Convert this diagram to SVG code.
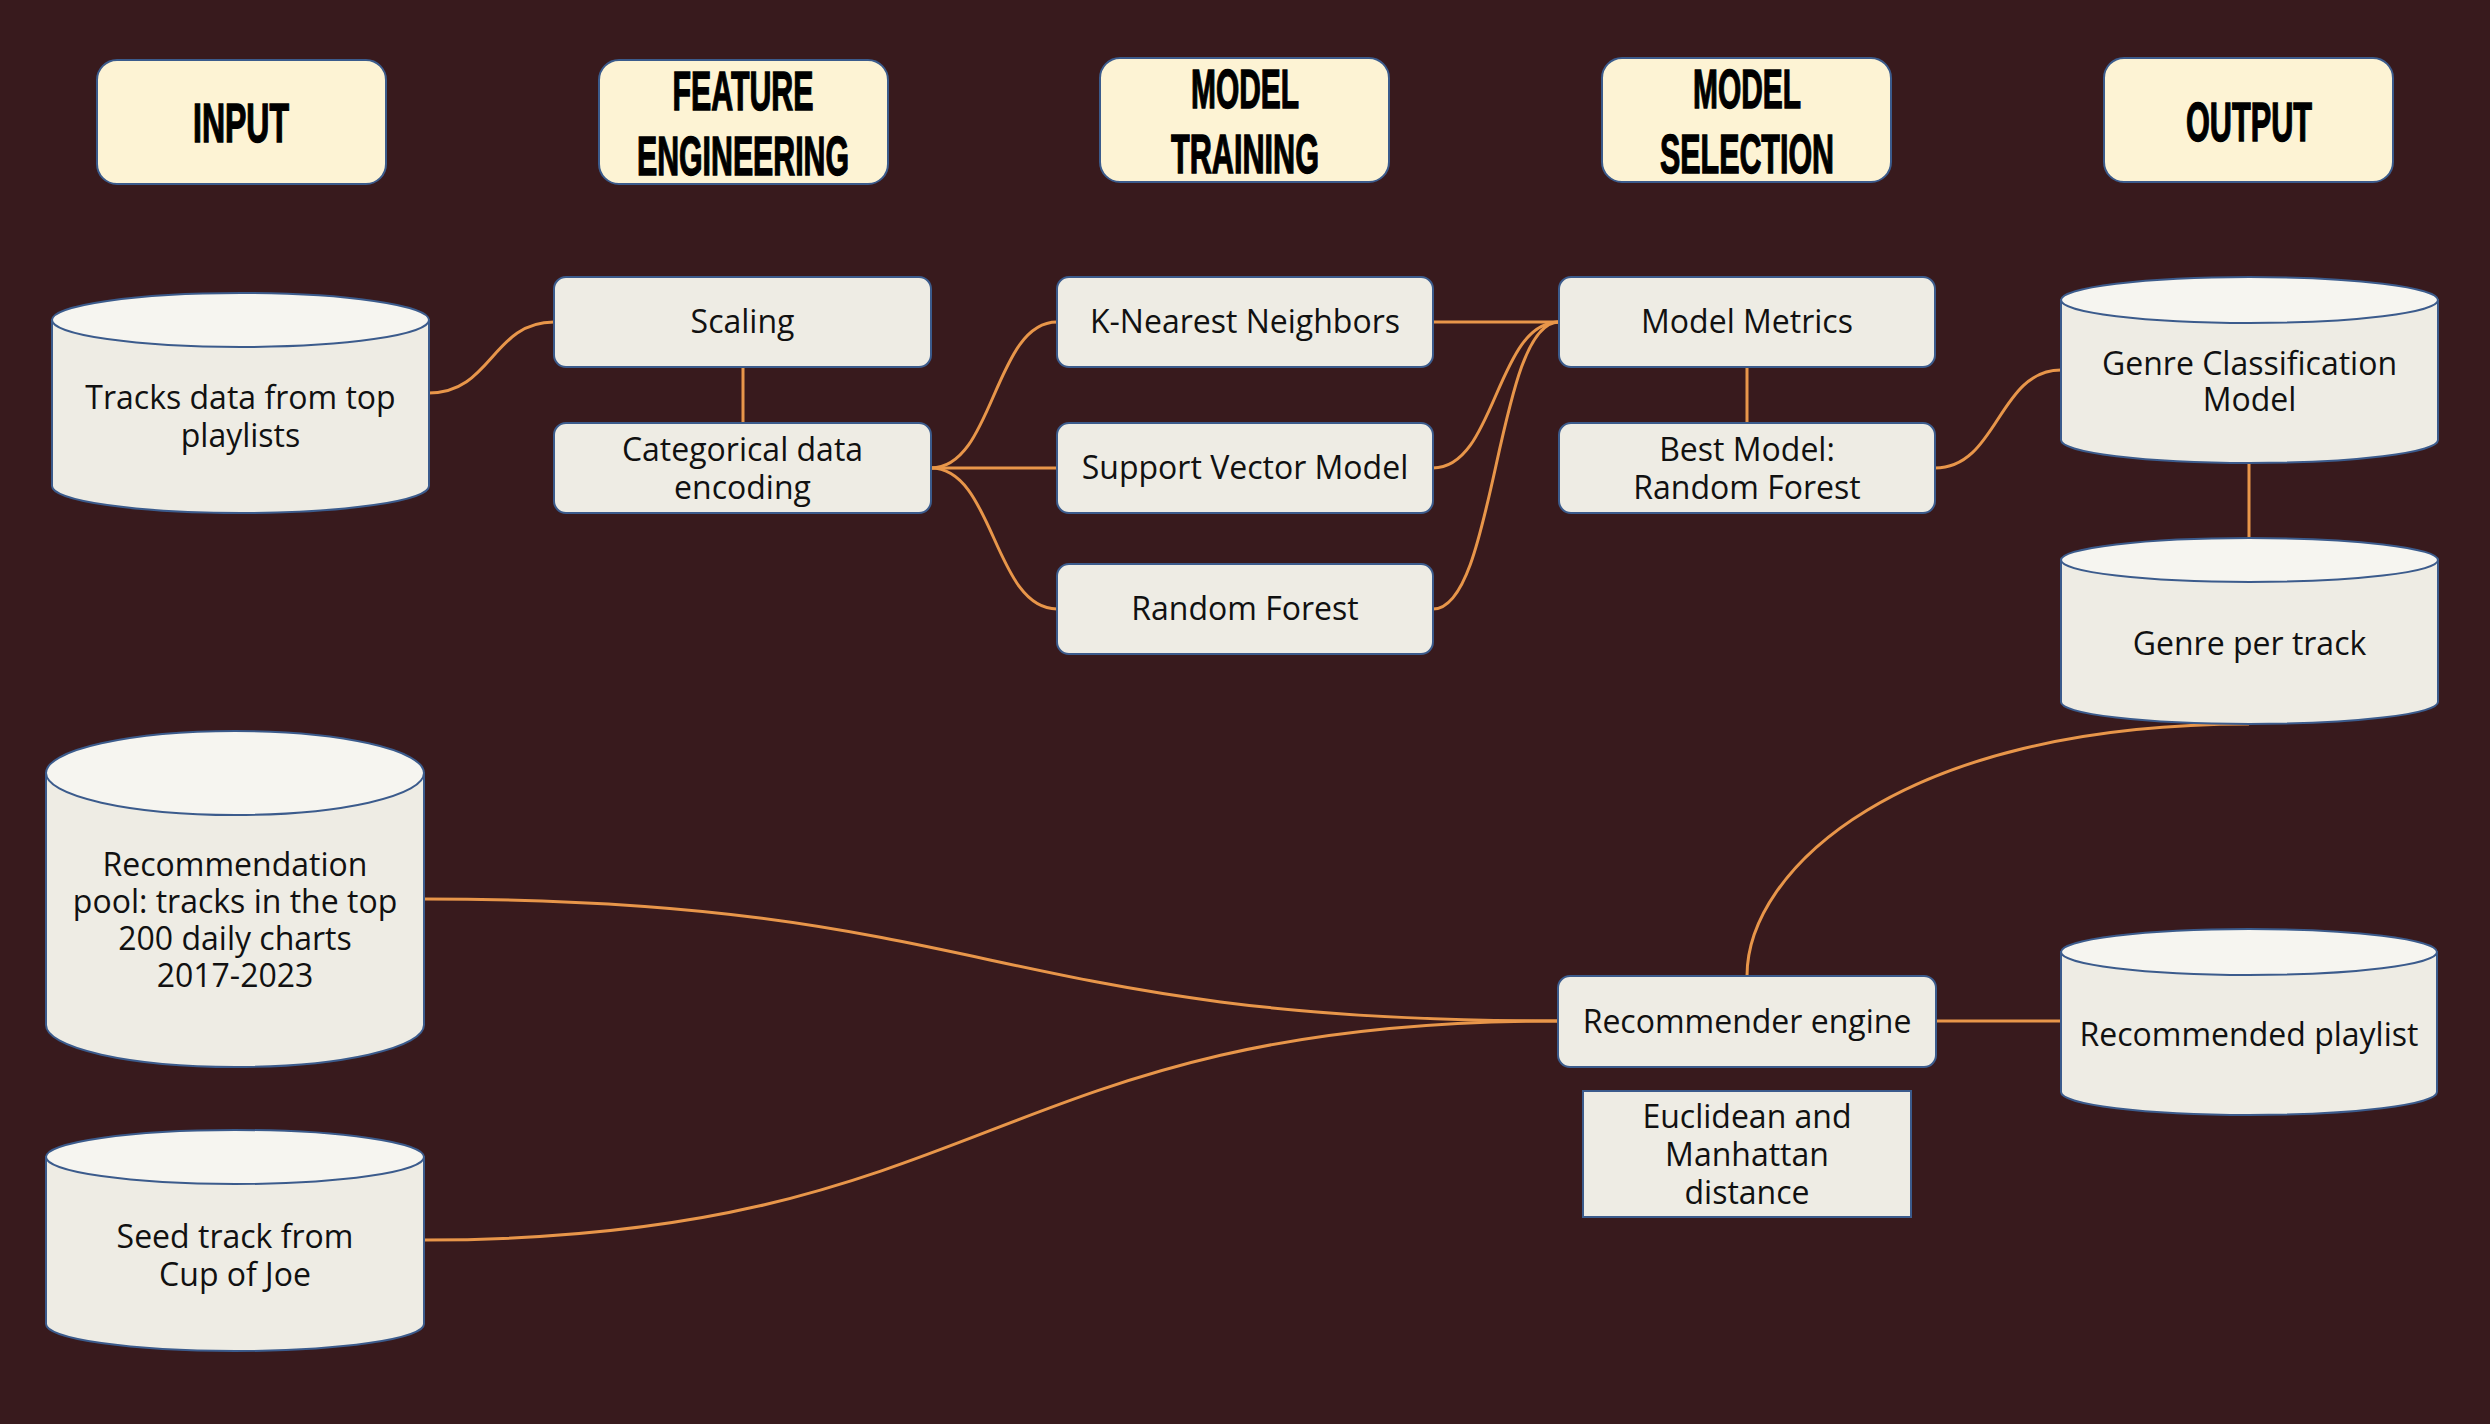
<svg xmlns="http://www.w3.org/2000/svg" width="2490" height="1424" viewBox="0 0 2490 1424">
<style>
.hdr{fill:#FDF3D4;stroke:#3B5B8C;stroke-width:2}
.box{fill:#EEECE4;stroke:#3B5B8C;stroke-width:2}
.cylb{fill:#EEECE4;stroke:#3B5B8C;stroke-width:2}
.cylt{fill:#F6F5F0;stroke:#3B5B8C;stroke-width:2}
.ht{font-family:"Liberation Sans",Arial,sans-serif;font-weight:bold;font-size:55px;fill:#000;stroke:#000;stroke-width:1.4;text-anchor:middle}
.t{font-family:"Open Sans","Noto Sans",sans-serif;font-size:32px;fill:#111;text-anchor:middle}
.c{fill:none;stroke:#E8964A;stroke-width:3}
</style>
<rect width="2490" height="1424" fill="#381A1D"/>
<g id="connectors">
<path class="c" d="M429,393 C492,393 492,322 554,322"/>
<path class="c" d="M743,367 V423"/>
<path class="c" d="M931,468 C994,468 994,322 1057,322"/>
<path class="c" d="M931,468 H1057"/>
<path class="c" d="M931,468 C994,468 994,609 1057,609"/>
<path class="c" d="M1433,322 H1559"/>
<path class="c" d="M1433,468 C1496,468 1496,322 1559,322"/>
<path class="c" d="M1433,609 C1496,609 1496,322 1559,322"/>
<path class="c" d="M1747,367 V423"/>
<path class="c" d="M1935,468 C1998,468 1998,370 2061,370"/>
<path class="c" d="M2249,463 V538"/>
<path class="c" d="M2249,724 C1900,724 1747,870 1747,976"/>
<path class="c" d="M424,899 C990,899 990,1021 1558,1021"/>
<path class="c" d="M424,1240 C990,1240 990,1021 1558,1021"/>
<path class="c" d="M1936,1021 H2061"/>
</g>
<g id="h-input"><rect class="hdr" x="97" y="60" width="289" height="124" rx="20"/><text class="ht" x="241" y="142" textLength="96" lengthAdjust="spacingAndGlyphs">INPUT</text></g>
<g id="h-feature"><rect class="hdr" x="599" y="60" width="289" height="124" rx="20"/><text class="ht" x="743" y="110" textLength="141" lengthAdjust="spacingAndGlyphs">FEATURE</text><text class="ht" x="743" y="175" textLength="212" lengthAdjust="spacingAndGlyphs">ENGINEERING</text></g>
<g id="h-training"><rect class="hdr" x="1100" y="58" width="289" height="124" rx="20"/><text class="ht" x="1245" y="108" textLength="108" lengthAdjust="spacingAndGlyphs">MODEL</text><text class="ht" x="1245" y="173" textLength="148" lengthAdjust="spacingAndGlyphs">TRAINING</text></g>
<g id="h-selection"><rect class="hdr" x="1602" y="58" width="289" height="124" rx="20"/><text class="ht" x="1747" y="108" textLength="108" lengthAdjust="spacingAndGlyphs">MODEL</text><text class="ht" x="1747" y="173" textLength="174" lengthAdjust="spacingAndGlyphs">SELECTION</text></g>
<g id="h-output"><rect class="hdr" x="2104" y="58" width="289" height="124" rx="20"/><text class="ht" x="2249" y="141" textLength="126" lengthAdjust="spacingAndGlyphs">OUTPUT</text></g>
<g id="tracks"><path class="cylb" d="M52,320 V486 A188.5,27 0 0 0 429,486 V320 Z"/><ellipse class="cylt" cx="240.5" cy="320" rx="188.5" ry="27"/><text class="t" x="240.5" y="409">Tracks data from top</text><text class="t" x="240.5" y="447">playlists</text></g>
<g id="scaling"><rect class="box" x="554" y="277" width="377" height="90" rx="12"/><text class="t" x="742.5" y="333">Scaling</text></g>
<g id="categorical"><rect class="box" x="554" y="423" width="377" height="90" rx="12"/><text class="t" x="742.5" y="461">Categorical data</text><text class="t" x="742.5" y="499">encoding</text></g>
<g id="knn"><rect class="box" x="1057" y="277" width="376" height="90" rx="12"/><text class="t" x="1245" y="333">K-Nearest Neighbors</text></g>
<g id="svm"><rect class="box" x="1057" y="423" width="376" height="90" rx="12"/><text class="t" x="1245" y="479">Support Vector Model</text></g>
<g id="rf"><rect class="box" x="1057" y="564" width="376" height="90" rx="12"/><text class="t" x="1245" y="620">Random Forest</text></g>
<g id="metrics"><rect class="box" x="1559" y="277" width="376" height="90" rx="12"/><text class="t" x="1747" y="333">Model Metrics</text></g>
<g id="best"><rect class="box" x="1559" y="423" width="376" height="90" rx="12"/><text class="t" x="1747" y="461">Best Model:</text><text class="t" x="1747" y="499">Random Forest</text></g>
<g id="genre-model"><path class="cylb" d="M2061,300 V440 A188.5,23 0 0 0 2438,440 V300 Z"/><ellipse class="cylt" cx="2249.5" cy="300" rx="188.5" ry="23"/><text class="t" x="2249.5" y="375">Genre Classification</text><text class="t" x="2249.5" y="411">Model</text></g>
<g id="genre-track"><path class="cylb" d="M2061,560 V702 A188.5,22 0 0 0 2438,702 V560 Z"/><ellipse class="cylt" cx="2249.5" cy="560" rx="188.5" ry="22"/><text class="t" x="2249.5" y="655">Genre per track</text></g>
<g id="pool"><path class="cylb" d="M46,773 V1025 A189,42 0 0 0 424,1025 V773 Z"/><ellipse class="cylt" cx="235" cy="773" rx="189" ry="42"/><text class="t" x="235" y="876">Recommendation</text><text class="t" x="235" y="913">pool: tracks in the top</text><text class="t" x="235" y="950">200 daily charts</text><text class="t" x="235" y="987">2017-2023</text></g>
<g id="seed"><path class="cylb" d="M46,1157 V1324 A189,27 0 0 0 424,1324 V1157 Z"/><ellipse class="cylt" cx="235" cy="1157" rx="189" ry="27"/><text class="t" x="235" y="1248">Seed track from</text><text class="t" x="235" y="1286">Cup of Joe</text></g>
<g id="engine"><rect class="box" x="1558" y="976" width="378" height="91" rx="12"/><text class="t" x="1747" y="1033">Recommender engine</text></g>
<g id="distance"><rect class="box" x="1583" y="1091" width="328" height="126"/><text class="t" x="1747" y="1128">Euclidean and</text><text class="t" x="1747" y="1166">Manhattan</text><text class="t" x="1747" y="1204">distance</text></g>
<g id="playlist"><path class="cylb" d="M2061,952 V1092 A188,23 0 0 0 2437,1092 V952 Z"/><ellipse class="cylt" cx="2249" cy="952" rx="188" ry="23"/><text class="t" x="2249" y="1046">Recommended playlist</text></g>
</svg>
